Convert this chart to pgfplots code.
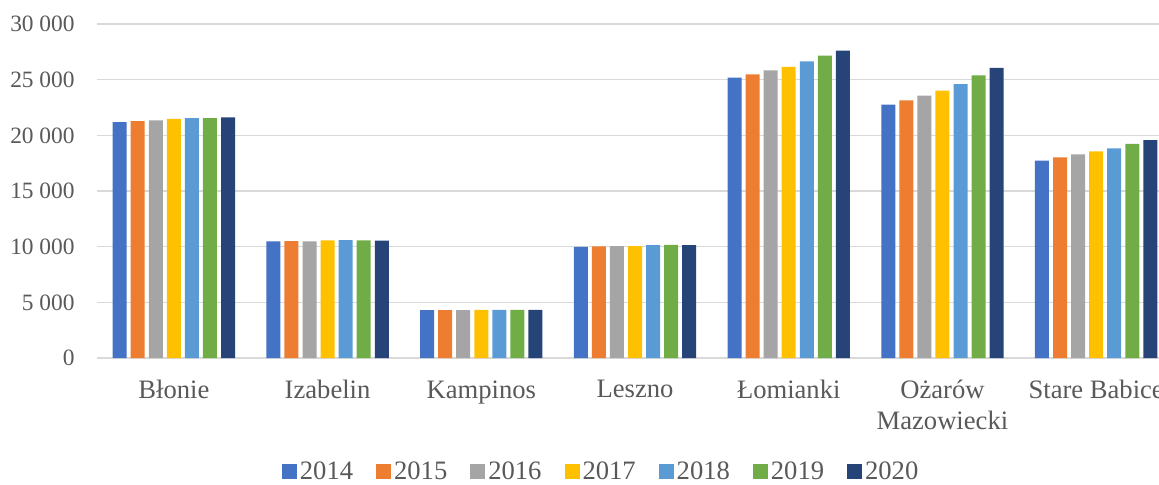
\documentclass[border=0pt]{standalone}
\usepackage{pgfplots}
\usepackage{pgfplotstable}
\pgfplotsset{compat=1.18}
\usepackage{fontspec}
\setmainfont{Liberation Serif}
\definecolor{c14}{HTML}{4472C4}
\definecolor{c15}{HTML}{ED7D31}
\definecolor{c16}{HTML}{A5A5A5}
\definecolor{c17}{HTML}{FFC000}
\definecolor{c18}{HTML}{5B9BD5}
\definecolor{c19}{HTML}{70AD47}
\definecolor{c20}{HTML}{264478}
\definecolor{txt}{HTML}{595959}
\definecolor{grid}{HTML}{D9D9D9}
\pgfplotstableread{
x y2014 y2015 y2016 y2017 y2018 y2019 y2020
0 21190 21280 21345 21490 21550 21550 21615
1 10480 10500 10470 10560 10590 10570 10540
2 4300 4310 4300 4320 4330 4330 4330
3 9980 10020 10040 10040 10130 10160 10130
4 25180 25470 25830 26160 26640 27150 27620
5 22760 23140 23560 24010 24610 25380 26070
6 17740 18010 18280 18570 18840 19240 19560
}\datatable
\begin{document}
\begin{tikzpicture}
\path[use as bounding box] (0,0) rectangle (579.5pt,242pt);
\clip (0,0) rectangle (579.5pt,242pt);
\begin{axis}[
  at={(48.5pt,63pt)}, anchor=south west,
  scale only axis, width=538pt, height=167pt,
  xmin=-0.5, xmax=6.5, ymin=0, ymax=30000,
  ybar=2.03pt, bar width=7pt,
  axis line style={draw=none},
  ytick={0,5000,...,30000},
  xtick={0,...,6},
  xticklabels={Błonie, Izabelin, Kampinos, Leszno, Łomianki, {Ożarów\\Mazowiecki}, Stare Babice},
  scaled y ticks=false,
  ymajorgrids=true, xmajorgrids=false,
  y grid style={grid, line width=0.75pt},
  major tick length=0pt,
  tick style={draw=none},
  clip=false,
  /pgf/number format/.cd, 1000 sep={\ }, assume math mode=true,
  /pgfplots/.cd,
  yticklabel style={font=\fontsize{11.7}{13}\selectfont, text=txt, inner sep=0pt, anchor=east, xshift=-11pt},
  xticklabel style={font=\fontsize{13.3}{15.5}\selectfont, text=txt, inner sep=0pt, anchor=north, yshift=-11pt, align=center},
  legend columns=7,
  legend style={at={(0.469,-0.341)}, anchor=center, draw=none, fill=none,
    font=\fontsize{13.3}{15.5}\selectfont, text=txt,
    /tikz/every even column/.append style={column sep=10pt},
    nodes={inner sep=1.5pt}},
  legend image code/.code={\fill[#1] (0pt,-3.75pt) rectangle (7.5pt,3.75pt);},
]
\addplot[fill=c14, draw=none] table[x=x, y=y2014] {\datatable};
\addplot[fill=c15, draw=none] table[x=x, y=y2015] {\datatable};
\addplot[fill=c16, draw=none] table[x=x, y=y2016] {\datatable};
\addplot[fill=c17, draw=none] table[x=x, y=y2017] {\datatable};
\addplot[fill=c18, draw=none] table[x=x, y=y2018] {\datatable};
\addplot[fill=c19, draw=none] table[x=x, y=y2019] {\datatable};
\addplot[fill=c20, draw=none] table[x=x, y=y2020] {\datatable};
\legend{2014,2015,2016,2017,2018,2019,2020}
\end{axis}
\end{tikzpicture}
\end{document}
